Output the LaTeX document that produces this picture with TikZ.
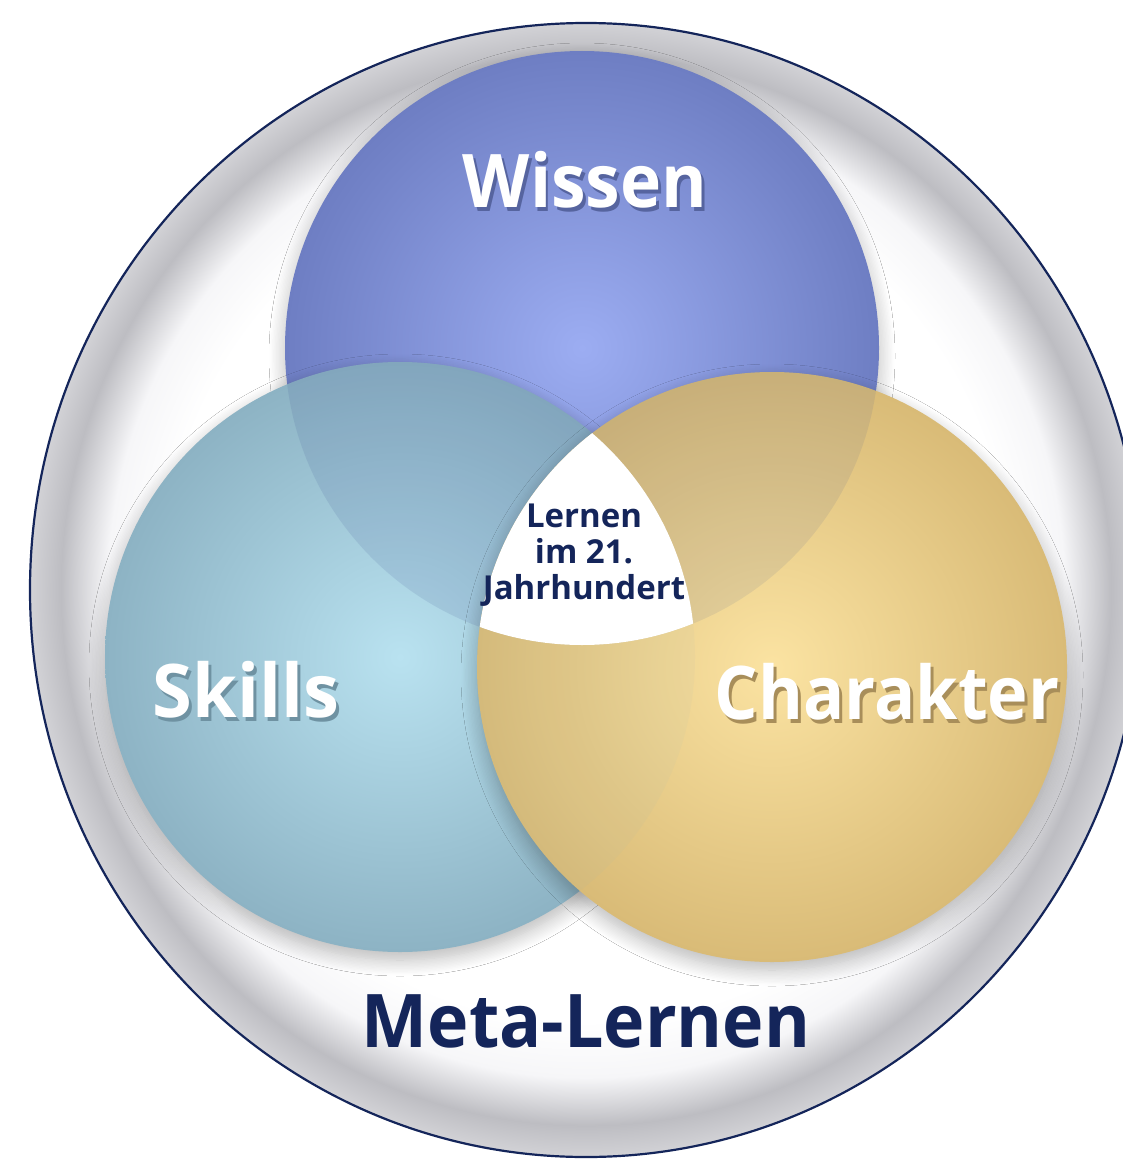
\documentclass[tikz,border=0pt]{standalone}
\usepackage{fontspec}
\setmainfont{Open Sans}
\usetikzlibrary{shadows.blur}
\definecolor{navy}{HTML}{14255A}
\definecolor{ringmid}{HTML}{BDBDC2}
\definecolor{ringout}{HTML}{D2D2D6}
\definecolor{ringin}{HTML}{F6F6F8}
\definecolor{bluein}{HTML}{9CADF2}
\definecolor{blueout}{HTML}{6E7EC3}
\definecolor{bluetint}{HTML}{3C5090}
\definecolor{cyanin}{HTML}{B9E2F0}
\definecolor{cyanout}{HTML}{8DB3C4}
\definecolor{goldin}{HTML}{FBE3A2}
\definecolor{goldout}{HTML}{D9BB77}
\definecolor{wshadow}{HTML}{56649F}
\definecolor{sshadow}{HTML}{6F92A2}
\definecolor{cshadow}{HTML}{A88E5A}
\newcommand{\shtext}[2]{\makebox[0pt][l]{\hspace{1.5pt}\raisebox{-2pt}{\textcolor{#1}{#2}}}#2}
\pgfdeclareradialshading{ringshade}{\pgfpoint{0bp}{0bp}}{color(0bp)=(white); color(19bp)=(white); color(21.5bp)=(ringin); color(23.6bp)=(ringmid); color(25bp)=(ringout); color(50bp)=(ringout)}
\tikzset{
  bigcirc/.style={blur shadow={shadow xshift=0pt, shadow yshift=-4pt, shadow blur radius=8pt, shadow blur steps=12, shadow opacity=28}},
  biglab/.style={font=\fontsize{37}{40}\selectfont\bfseries, text=white, inner sep=0pt},
  centerlab/.style={font=\fontsize{16.5}{18}\selectfont\bfseries, text=navy, align=center, inner sep=0pt},
  metalab/.style={font=\fontsize{37}{40}\selectfont\bfseries, text=navy, inner sep=0pt},
}
\begin{document}
\begin{tikzpicture}[x=0.5pt,y=-0.5pt]
\useasboundingbox (0,0) rectangle (1123,1161);
\fill[white] (0,0) rectangle (1123,1161);
% outer ring
\coordinate (co) at (586,590);
\path[shading=ringshade] (co) ellipse [x radius=556, y radius=567];
\draw[navy, line width=1.1pt] (co) ellipse [x radius=556, y radius=567];
% circles
\coordinate (cw) at (582,348);
\coordinate (cs) at (400,657);
\coordinate (cc) at (772,667);
\path[bigcirc, inner color=bluein, outer color=blueout] (cw) circle (297);
\path[bigcirc, inner color=cyanin, outer color=cyanout] (cs) circle (295);
\begin{scope}
  \clip (cw) circle (297);
  \fill[bluetint, opacity=0.13] (cs) circle (295);
\end{scope}
\path[bigcirc, inner color=goldin, outer color=goldout] (cc) circle (295);
\begin{scope}
  \clip (cw) circle (297);
  \fill[bluetint, opacity=0.10] (cc) circle (295);
\end{scope}
\begin{scope}
  \clip (cs) circle (295);
  \fill[cyanout, opacity=0.06] (cc) circle (295);
\end{scope}
\begin{scope}
  \clip (cw) circle (297);
  \clip (cs) circle (295);
  \fill[white] (cc) circle (295);
\end{scope}
% labels
\node[biglab] (wissen) at (585,182) {\scalebox{0.94}[1]{\shtext{wshadow}{Wissen}}};
\node[biglab] (skills) at (246,692) {\scalebox{0.975}[1]{\shtext{sshadow}{Skills}}};
\node[biglab] (char) at (887,694) {\scalebox{0.925}[1]{\shtext{cshadow}{Charakter}}};
\node[centerlab] (center) at (584,555) {Lernen\\im 21.\\Jahrhundert};
\node[metalab] (meta) at (586,1021) {\scalebox{0.945}[1]{Meta-Lernen}};
\end{tikzpicture}
\end{document}
